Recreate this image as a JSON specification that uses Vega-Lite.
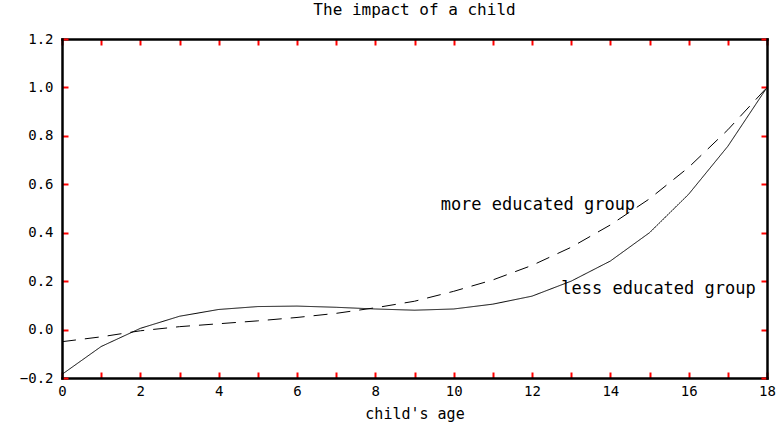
{
  "$schema": "https://vega.github.io/schema/vega-lite/v6.json",
  "width": 705,
  "height": 339,
  "autosize": {"type": "none"},
  "padding": {"left": 62, "top": 39, "right": 14, "bottom": 52},
  "background": "white",
  "title": {"text": "The impact of a child", "font": "DejaVu Sans Mono", "fontSize": 16, "fontWeight": "normal", "color": "#000000", "offset": 14, "anchor": "middle"},
  "config": {
    "view": {"stroke": null},
    "axis": {"grid": false}
  },
  "datasets": {
    "curves": [
      {"age": 0, "impact": -0.185, "group": "less educated group"},
      {"age": 1, "impact": -0.07, "group": "less educated group"},
      {"age": 2, "impact": 0.005, "group": "less educated group"},
      {"age": 3, "impact": 0.055, "group": "less educated group"},
      {"age": 4, "impact": 0.083, "group": "less educated group"},
      {"age": 5, "impact": 0.095, "group": "less educated group"},
      {"age": 6, "impact": 0.097, "group": "less educated group"},
      {"age": 7, "impact": 0.092, "group": "less educated group"},
      {"age": 8, "impact": 0.085, "group": "less educated group"},
      {"age": 9, "impact": 0.08, "group": "less educated group"},
      {"age": 10, "impact": 0.085, "group": "less educated group"},
      {"age": 11, "impact": 0.105, "group": "less educated group"},
      {"age": 12, "impact": 0.138, "group": "less educated group"},
      {"age": 13, "impact": 0.2, "group": "less educated group"},
      {"age": 14, "impact": 0.283, "group": "less educated group"},
      {"age": 15, "impact": 0.4, "group": "less educated group"},
      {"age": 16, "impact": 0.559, "group": "less educated group"},
      {"age": 17, "impact": 0.757, "group": "less educated group"},
      {"age": 18, "impact": 1.0, "group": "less educated group"},
      {"age": 0, "impact": -0.05, "group": "more educated group"},
      {"age": 1, "impact": -0.03, "group": "more educated group"},
      {"age": 2, "impact": -0.005, "group": "more educated group"},
      {"age": 3, "impact": 0.012, "group": "more educated group"},
      {"age": 4, "impact": 0.024, "group": "more educated group"},
      {"age": 5, "impact": 0.036, "group": "more educated group"},
      {"age": 6, "impact": 0.05, "group": "more educated group"},
      {"age": 7, "impact": 0.067, "group": "more educated group"},
      {"age": 8, "impact": 0.09, "group": "more educated group"},
      {"age": 9, "impact": 0.117, "group": "more educated group"},
      {"age": 10, "impact": 0.158, "group": "more educated group"},
      {"age": 11, "impact": 0.205, "group": "more educated group"},
      {"age": 12, "impact": 0.265, "group": "more educated group"},
      {"age": 13, "impact": 0.34, "group": "more educated group"},
      {"age": 14, "impact": 0.432, "group": "more educated group"},
      {"age": 15, "impact": 0.54, "group": "more educated group"},
      {"age": 16, "impact": 0.67, "group": "more educated group"},
      {"age": 17, "impact": 0.825, "group": "more educated group"},
      {"age": 18, "impact": 1.0, "group": "more educated group"}
    ],
    "labels": [
      {"age": 12.15, "impact": 0.514, "text": "more educated group"},
      {"age": 15.23, "impact": 0.167, "text": "less educated group"}
    ]
  },
  "layer": [
    {
      "data": {"name": "curves"},
      "mark": {"type": "line", "color": "#000000", "strokeWidth": 1},
      "encoding": {
        "x": {"field": "age", "type": "quantitative", "scale": {"domain": [0, 18], "nice": false, "zero": false},
          "axis": {"orient": "bottom", "title": "child's age", "values": [0,1,2,3,4,5,6,7,8,9,10,11,12,13,14,15,16,17,18], "labelExpr": "datum.value % 2 == 0 ? datum.label : ''",
            "domain": true, "domainColor": "#000000", "domainWidth": 2.5, "domainCap": "square",
            "ticks": true, "tickColor": "red", "tickWidth": 2, "tickSize": -6, "labelPadding": 12, "titlePadding": 8, "labelFlush": false,
            "labelFont": "DejaVu Sans Mono", "labelFontSize": 14, "labelColor": "#000000", "titleFont": "DejaVu Sans Mono", "titleFontSize": 15, "titleFontWeight": "normal", "titleColor": "#000000"}},
        "y": {"field": "impact", "type": "quantitative", "scale": {"domain": [-0.2, 1.2], "nice": false, "zero": false},
          "axis": {"orient": "left", "title": null, "values": [-0.2, 0, 0.2, 0.4, 0.6, 0.8, 1.0, 1.2], "format": ".1f",
            "domain": true, "domainColor": "#000000", "domainWidth": 2.5, "domainCap": "square",
            "ticks": true, "tickColor": "red", "tickWidth": 2, "tickSize": -6, "labelPadding": 15, "labelFlush": false,
            "labelFont": "DejaVu Sans Mono", "labelFontSize": 14, "labelColor": "#000000"}},
        "strokeDash": {"field": "group", "type": "nominal", "scale": {"domain": ["less educated group", "more educated group"], "range": [[1, 0], [14, 9]]}, "legend": null}
      }
    },
    {
      "data": {"name": "labels"},
      "mark": {"type": "text", "font": "DejaVu Sans Mono", "fontSize": 17, "color": "#000000", "align": "center", "baseline": "middle"},
      "encoding": {
        "x": {"field": "age", "type": "quantitative", "axis": {"orient": "top", "title": null, "labels": false, "values": [0,1,2,3,4,5,6,7,8,9,10,11,12,13,14,15,16,17,18],
          "domain": true, "domainColor": "#000000", "domainWidth": 2.5, "domainCap": "square", "ticks": true, "tickColor": "red", "tickWidth": 2, "tickSize": -6}},
        "y": {"field": "impact", "type": "quantitative", "axis": {"orient": "right", "title": null, "labels": false, "values": [-0.2, 0, 0.2, 0.4, 0.6, 0.8, 1.0, 1.2],
          "domain": true, "domainColor": "#000000", "domainWidth": 2.5, "domainCap": "square", "ticks": true, "tickColor": "red", "tickWidth": 2, "tickSize": -6}},
        "text": {"field": "text"}
      }
    }
  ],
  "resolve": {"axis": {"x": "independent", "y": "independent"}}
}
